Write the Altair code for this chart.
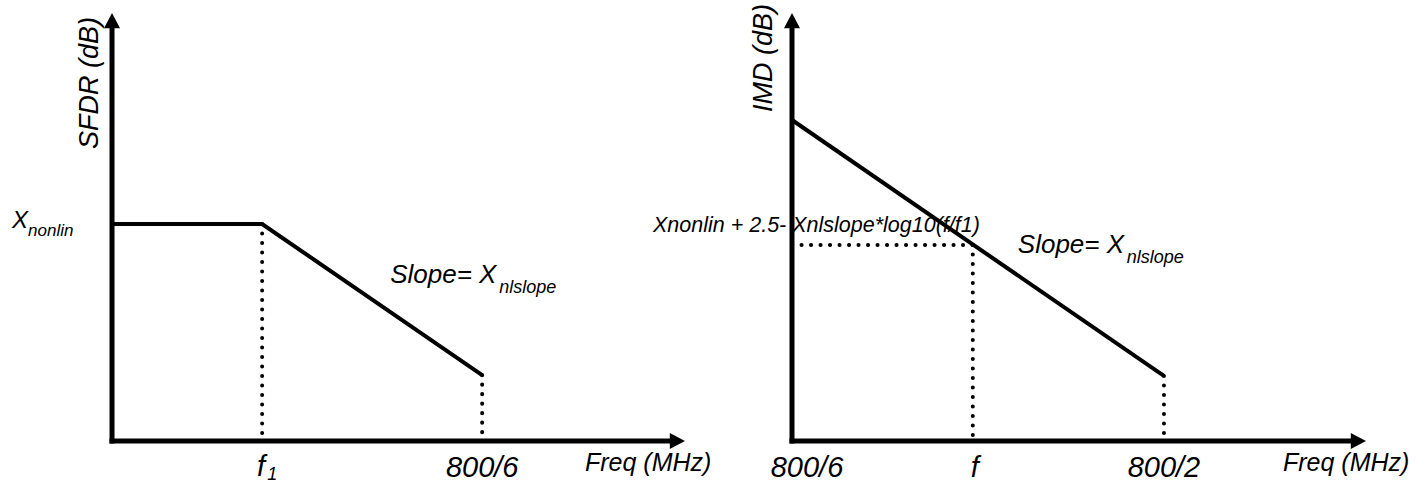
import altair as alt
import pandas as pd

# ---------------- data (schematic units: frequency 0..100, level 0..100) ----------------
axis_len = 100.0

# Left panel: SFDR (dB) vs Freq (MHz)
sfdr_freq = [0.0, 26.2, 64.6]          # origin, f1, 800/6
sfdr_level = [50.7, 50.7, 15.4]        # flat at X_nonlin, then slope
sfdr_tick_freq = [26.2, 64.6]
sfdr_tick_text = ["f", "800/6"]

# Right panel: IMD (dB) vs Freq (MHz)
imd_freq = [0.0, 64.8]                 # 800/6 .. 800/2
imd_level = [75.0, 15.2]
imd_f = 31.5
imd_f_level = 45.8
imd_tick_freq = [0.0, 31.5, 64.8]
imd_tick_text = ["800/6", "f", "800/2"]
formula = "Xnonlin + 2.5- Xnlslope*log10(f/f1)"

FONT = "Liberation Sans"
PANEL_W, PANEL_H = 709, 483
UP_ARROW = "M0,0L-1,1.9L1,1.9Z"
RIGHT_ARROW = "M0,0L-1.9,-1L-1.9,1Z"


def pt(x, y):
    return pd.DataFrame({"x": [x], "y": [y]})


def make_panel(xdom, ydom, curve_x, curve_y, dotted, texts):
    xs = alt.Scale(domain=xdom, nice=False, zero=False)
    ys = alt.Scale(domain=ydom, nice=False, zero=False)

    def X(f="x"):
        return alt.X(f"{f}:Q", scale=xs, axis=None)

    def Y(f="y"):
        return alt.Y(f"{f}:Q", scale=ys, axis=None)

    layers = []
    # axes lines
    layers.append(
        alt.Chart(pd.DataFrame({"x": [0.0], "y": [0.0], "y2": [axis_len - 3]}))
        .mark_rule(color="black", strokeWidth=5, strokeCap="square")
        .encode(x=X(), y=Y(), y2="y2:Q")
    )
    layers.append(
        alt.Chart(pd.DataFrame({"x": [0.0], "x2": [axis_len - 2], "y": [0.0]}))
        .mark_rule(color="black", strokeWidth=5, strokeCap="square")
        .encode(x=X(), x2="x2:Q", y=Y())
    )
    # arrow heads
    layers.append(
        alt.Chart(pt(0.0, axis_len))
        .mark_point(shape=UP_ARROW, filled=True, size=256, color="black", opacity=1, strokeWidth=0)
        .encode(x=X(), y=Y())
    )
    layers.append(
        alt.Chart(pt(axis_len, 0.0))
        .mark_point(shape=RIGHT_ARROW, filled=True, size=256, color="black", opacity=1, strokeWidth=0)
        .encode(x=X(), y=Y())
    )
    # response curve
    cdf = pd.DataFrame({"x": curve_x, "y": curve_y, "i": list(range(len(curve_x)))})
    layers.append(
        alt.Chart(cdf)
        .mark_line(color="black", strokeWidth=4, strokeJoin="miter", strokeCap="butt")
        .encode(x=X(), y=Y(), order="i:O")
    )
    # dotted guide lines
    for (x1, y1, x2, y2) in dotted:
        ddf = pd.DataFrame({"x": [x1], "y": [y1], "x2": [x2], "y2": [y2]})
        layers.append(
            alt.Chart(ddf)
            .mark_rule(color="black", strokeWidth=4, strokeDash=[0.1, 9.4], strokeCap="round")
            .encode(x=X(), y=Y(), x2="x2:Q", y2="y2:Q")
        )
    # texts
    for t in texts:
        kw = dict(
            font=FONT, fontStyle="italic", fontSize=t["size"], color="black",
            align=t.get("align", "left"), baseline="alphabetic",
            xOffset=t.get("dx", 0), yOffset=t.get("dy", 0),
        )
        if "angle" in t:
            kw["angle"] = t["angle"]
        layers.append(
            alt.Chart(pt(t["x"], t["y"]))
            .mark_text(**kw)
            .encode(x=X(), y=Y(), text=alt.value(t["text"]))
        )
    return alt.layer(*layers).properties(width=PANEL_W, height=PANEL_H)


# ---------------- left panel ----------------
left_texts = [
    dict(text="X", x=0.0, y=sfdr_level[0], size=24, dx=-100, dy=4),
    dict(text="nonlin", x=0.0, y=sfdr_level[0], size=17, dx=-84, dy=12),
    dict(text="SFDR (dB)", x=0.0, y=axis_len, size=27, dx=-14, dy=70, align="center", angle=270),
    dict(text="Slope= X", x=sfdr_freq[1], y=sfdr_level[1], size=26, dx=128, dy=59),
    dict(text="nlslope", x=sfdr_freq[1], y=sfdr_level[1], size=18, dx=237, dy=69),
    dict(text=sfdr_tick_text[0], x=sfdr_tick_freq[0], y=0.0, size=29, dx=3, dy=35, align="right"),
    dict(text="1", x=sfdr_tick_freq[0], y=0.0, size=18, dx=5, dy=39),
    dict(text=sfdr_tick_text[1], x=sfdr_tick_freq[1], y=0.0, size=29, dx=0, dy=36, align="center"),
    dict(text="Freq (MHz)", x=axis_len, y=0.0, size=25, dx=-100, dy=30),
]
left = make_panel(
    [-19.55, 104.19], [-9.81, 103.04],
    sfdr_freq, sfdr_level,
    [(sfdr_freq[1], sfdr_level[1], sfdr_freq[1], 0.0),
     (sfdr_freq[2], sfdr_level[2], sfdr_freq[2], 0.0)],
    left_texts,
)

# ---------------- right panel ----------------
right_texts = [
    dict(text="IMD (dB)", x=0.0, y=axis_len, size=27, dx=-20, dy=45, align="center", angle=270),
    dict(text=formula, x=0.0, y=imd_f_level, size=21.5, dx=-139, dy=-13),
    dict(text="Slope= X", x=imd_f, y=imd_f_level, size=26, dx=45, dy=8),
    dict(text="nlslope", x=imd_f, y=imd_f_level, size=18, dx=154, dy=18),
    dict(text=imd_tick_text[0], x=imd_tick_freq[0], y=0.0, size=29, dx=15, dy=36, align="center"),
    dict(text=imd_tick_text[1], x=imd_tick_freq[1], y=0.0, size=29, dx=2, dy=36, align="center"),
    dict(text=imd_tick_text[2], x=imd_tick_freq[2], y=0.0, size=29, dx=0, dy=36, align="center"),
    dict(text="Freq (MHz)", x=axis_len, y=0.0, size=25, dx=-83, dy=30),
]
right = make_panel(
    [-14.46, 109.06], [-9.81, 103.04],
    imd_freq, imd_level,
    [(0.0, imd_f_level, imd_f, imd_f_level),
     (imd_f, imd_f_level, imd_f, 0.0),
     (imd_freq[1], imd_level[1], imd_freq[1], 0.0)],
    right_texts,
)

chart = (
    alt.hconcat(left, right, spacing=0, bounds="flush")
    .properties(padding=0, background="white")
    .configure_view(stroke=None)
)

chart.save("out.html", embed_options={"renderer": "svg", "actions": False})
